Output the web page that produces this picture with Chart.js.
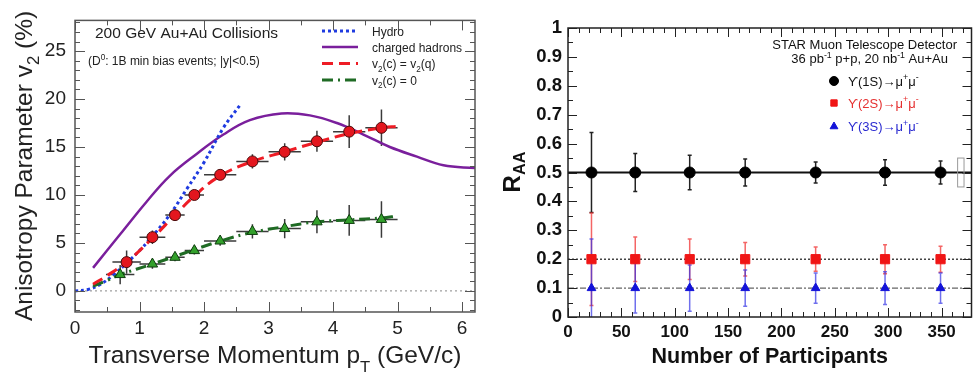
<!DOCTYPE html>
<html>
<head>
<meta charset="utf-8">
<script src="https://cdn.jsdelivr.net/npm/chart.js@4.4.1/dist/chart.umd.min.js"></script>
<style>
  html, body { margin: 0; padding: 0; background: #fff; }
  #wrap { position: relative; width: 979px; height: 372px; overflow: hidden; }
  #left { position: absolute; left: 0; top: 0; }
  #right { position: absolute; left: 490px; top: 0; }
</style>
</head>
<body>
<div id="wrap">
  <canvas id="left" width="490" height="372"></canvas>
  <canvas id="right" width="489" height="372"></canvas>
</div>
<script>
// ---- left panel: D0 v2 vs pT ----
const ptTicks = [0, 1, 2, 3, 4, 5, 6];
const v2Ticks = [0, 5, 10, 15, 20, 25];

const ptBins = [0.8, 1.2, 1.55, 1.85, 2.25, 2.75, 3.25, 3.75, 4.25, 4.75];
const ptHalfWidth = [0.22, 0.2, 0.15, 0.15, 0.25, 0.25, 0.25, 0.25, 0.25, 0.25];
const v2Quark = [3.0, 5.6, 7.9, 10.0, 12.1, 13.5, 14.5, 15.6, 16.6, 17.0];
const v2QuarkErr = [1.2, 0.7, 0.5, 0.4, 0.5, 0.75, 0.9, 1.1, 1.7, 1.9];

const ptBinsZero = [0.7, 1.2, 1.55, 1.85, 2.25, 2.75, 3.25, 3.75, 4.25, 4.75];
const v2Zero = [1.7, 2.8, 3.5, 4.2, 5.2, 6.2, 6.5, 7.2, 7.35, 7.45];
const v2ZeroErr = [1.0, 0.5, 0.4, 0.4, 0.5, 0.75, 1.0, 1.2, 1.6, 1.9];

const quarkCurvePt = [0.28, 0.5, 0.8, 1.2, 1.55, 1.85, 2.25, 2.75, 3.25, 3.75, 4.25, 4.75, 5.0];
const quarkCurveV2 = [0.7, 1.6, 3.0, 5.5, 7.9, 9.9, 12.0, 13.5, 14.5, 15.5, 16.4, 17.0, 17.15];
const zeroCurvePt = [0.28, 0.5, 0.7, 1.2, 1.55, 1.85, 2.25, 2.75, 3.25, 3.75, 4.25, 4.75, 5.0];
const zeroCurveV2 = [0.5, 1.1, 1.7, 2.8, 3.6, 4.3, 5.2, 6.1, 6.7, 7.2, 7.4, 7.6, 7.8];

const hydroPt = [0, 0.2, 0.4, 0.6, 0.8, 1.0, 1.2, 1.47, 1.73, 2.0, 2.3, 2.55];
const hydroV2 = [0, 0.15, 0.7, 1.7, 2.9, 4.2, 5.7, 7.95, 10.6, 13.4, 17.0, 19.3];

const hadronPt = [0.28, 0.7, 1.11, 1.47, 1.89, 2.3, 2.71, 3.2, 3.64, 4.06, 4.47, 4.88, 5.3, 5.71, 6.2];
const hadronV2 = [2.4, 5.9, 9.3, 12.0, 14.3, 16.3, 17.8, 18.5, 18.3, 17.5, 16.3, 15.0, 14.0, 13.1, 12.8];

const zeroLinePt = [0, 6.2];

// ---- right panel: Upsilon R_AA vs Npart ----
const npartTicks = [0, 50, 100, 150, 200, 250, 300, 350];
const raaTicks = [0, 0.1, 0.2, 0.3, 0.4, 0.5, 0.6, 0.7, 0.8, 0.9, 1];

const nPart = [22, 63, 114, 166, 232, 297, 349];
const raa1S = [0.5, 0.5, 0.5, 0.5, 0.5, 0.5, 0.5];
const raa1SErr = [0.138, 0.066, 0.06, 0.047, 0.036, 0.044, 0.04];
const raa2S = [0.2, 0.2, 0.2, 0.2, 0.2, 0.2, 0.2];
const raa2SErr = [0.16, 0.077, 0.07, 0.058, 0.042, 0.05, 0.045];
const raa3S = [0.1, 0.1, 0.1, 0.1, 0.1, 0.1, 0.1];
const raa3SErr = [0.17, 0.086, 0.08, 0.063, 0.052, 0.057, 0.052];

const refSpan = [0, 378];
const sysNpart = [365, 371];
const sysRaa = [0.45, 0.55];

const FONT = 'Liberation Sans, Arial, Helvetica, DejaVu Sans, sans-serif';
const xy = (xs, ys) => xs.map((x, i) => ({ x, y: ys[i] }));
const fixTicks = list => scale => { scale.ticks = list.map(v => ({ value: v })); };

// text with sub/superscripts: parts = [[text, ''|'sub'|'sup'], ...]
function richText(ctx, parts, x, y, o) {
  const fontFor = k => `${o.weight || 'normal'} ${k ? o.size * 0.68 : o.size}px ${FONT}`;
  let total = 0;
  const widths = parts.map(([t, k]) => {
    ctx.font = fontFor(k);
    const w = ctx.measureText(t).width;
    total += w;
    return w;
  });
  let cx = o.align === 'center' ? x - total / 2 : o.align === 'right' ? x - total : x;
  ctx.fillStyle = o.color || '#000';
  ctx.textAlign = 'left';
  ctx.textBaseline = 'alphabetic';
  parts.forEach(([t, k], i) => {
    ctx.font = fontFor(k);
    const dy = k === 'sub' ? o.size * (o.subShift || 0.3) : k === 'sup' ? -o.size * 0.42 : 0;
    ctx.fillText(t, cx, y + dy);
    cx += widths[i];
  });
}

function rotatedText(ctx, parts, x, y, o) {
  ctx.save();
  ctx.translate(x, y);
  ctx.rotate(-Math.PI / 2);
  richText(ctx, parts, 0, 0, Object.assign({ align: 'center' }, o));
  ctx.restore();
}

const errorBars = {
  id: 'errorBars',
  beforeDatasetsDraw(chart) {
    const { ctx, chartArea: a, scales: { x, y } } = chart;
    ctx.save();
    ctx.beginPath();
    ctx.rect(a.left, a.top, a.width, a.height);
    ctx.clip();
    chart.data.datasets.forEach(ds => {
      if (!ds.yErr) return;
      ctx.strokeStyle = ds.errColor;
      ctx.lineWidth = ds.errWidth || 1.5;
      ds.data.forEach((p, i) => {
        const px = x.getPixelForValue(p.x), py = y.getPixelForValue(p.y);
        const top = y.getPixelForValue(p.y + ds.yErr[i]);
        const bot = y.getPixelForValue(p.y - ds.yErr[i]);
        ctx.beginPath();
        ctx.moveTo(px, top); ctx.lineTo(px, bot);
        if (ds.xErr) {
          ctx.moveTo(x.getPixelForValue(p.x - ds.xErr[i]), py);
          ctx.lineTo(x.getPixelForValue(p.x + ds.xErr[i]), py);
        }
        if (ds.cap) {
          ctx.moveTo(px - ds.cap, top); ctx.lineTo(px + ds.cap, top);
          ctx.moveTo(px - ds.cap, bot); ctx.lineTo(px + ds.cap, bot);
        }
        ctx.stroke();
      });
    });
    ctx.restore();
  }
};

// ROOT-style frame with inward ticks on all four sides
const frameTicks = {
  id: 'frameTicks',
  afterDatasetsDraw(chart, args, o) {
    const { ctx, chartArea: a, scales: { x, y } } = chart;
    const isMajor = (v, step) => Math.abs(v / step - Math.round(v / step)) < 1e-6;
    ctx.save();
    ctx.strokeStyle = o.color;
    ctx.lineWidth = o.tickWidth;
    ctx.beginPath();
    for (let v = Math.ceil(x.min / o.xMinor - 1e-9) * o.xMinor; v <= x.max + 1e-9; v += o.xMinor) {
      const px = Math.round(x.getPixelForValue(v)) + 0.5;
      const len = isMajor(v, o.xMajor) ? o.majorLen : o.minorLen;
      ctx.moveTo(px, a.bottom); ctx.lineTo(px, a.bottom - len);
      ctx.moveTo(px, a.top); ctx.lineTo(px, a.top + len);
    }
    for (let v = Math.ceil(y.min / o.yMinor - 1e-9) * o.yMinor; v <= y.max + 1e-9; v += o.yMinor) {
      const py = Math.round(y.getPixelForValue(v)) + 0.5;
      const len = isMajor(v, o.yMajor) ? o.majorLen : o.minorLen;
      ctx.moveTo(a.left, py); ctx.lineTo(a.left + len, py);
      ctx.moveTo(a.right, py); ctx.lineTo(a.right - len, py);
    }
    ctx.stroke();
    ctx.lineWidth = o.width;
    ctx.strokeRect(a.left, a.top, a.width, a.height);
    ctx.restore();
  }
};

const leftText = {
  id: 'leftText',
  afterDraw(chart) {
    const { ctx, chartArea: a } = chart;
    const ds = chart.data.datasets;
    richText(ctx, [['200 GeV Au+Au Collisions', '']], 95, 38, { size: 15.5, color: '#222' });
    richText(ctx, [['(D', ''], ['0', 'sup'], [': 1B min bias events; |y|<0.5)', '']], 88, 65, { size: 12, color: '#222' });

    const rows = [
      [4, [['Hydro', '']], 31],
      [5, [['charged hadrons', '']], 47],
      [2, [['v', ''], ['2', 'sub'], ['(c) = v', ''], ['2', 'sub'], ['(q)', '']], 63.5],
      [3, [['v', ''], ['2', 'sub'], ['(c) = 0', '']], 80]
    ];
    rows.forEach(([i, parts, yy]) => {
      const d = ds[i];
      ctx.save();
      ctx.strokeStyle = d.borderColor;
      ctx.lineWidth = d.borderWidth;
      ctx.setLineDash(d.borderDash || []);
      ctx.beginPath();
      ctx.moveTo(322, yy); ctx.lineTo(358, yy);
      ctx.stroke();
      ctx.restore();
      richText(ctx, parts, 372, yy + 4.5, { size: 12, color: '#222' });
    });

    rotatedText(ctx, [['Anisotropy Parameter v', ''], ['2', 'sub'], [' (%)', '']], 32, 166, { size: 24.5, color: '#222' });
    richText(ctx, [['Transverse Momentum p', ''], ['T', 'sub'], [' (GeV/c)', '']], (a.left + a.right) / 2, 363, { size: 24.5, color: '#222', align: 'center', subShift: 0.4 });
  }
};

const rightText = {
  id: 'rightText',
  afterDraw(chart) {
    const { ctx, scales: { x, y }, chartArea: a } = chart;
    const ds = chart.data.datasets;
    richText(ctx, [['STAR Muon Telescope Detector', '']], 467, 49, { size: 13, color: '#111', align: 'right' });
    richText(ctx, [['36 pb', ''], ['-1', 'sup'], [' p+p, 20 nb', ''], ['-1', 'sup'], [' Au+Au', '']], 458, 63, { size: 13, color: '#111', align: 'right' });

    const rows = [
      [0, '#111', 81],
      [1, '#e53030', 103],
      [2, '#2a2ad0', 126.5]
    ];
    const names = ['ϒ(1S)→μ', 'ϒ(2S)→μ', 'ϒ(3S)→μ'];
    rows.forEach(([i, col, yy]) => {
      const d = ds[i];
      ctx.save();
      ctx.fillStyle = d.backgroundColor;
      ctx.strokeStyle = d.borderColor;
      ctx.lineWidth = 1;
      Chart.helpers.drawPoint(ctx, { pointStyle: d.pointStyle, radius: 4.5, rotation: 0, borderWidth: 1 }, 344, yy);
      ctx.restore();
      richText(ctx, [[names[i], ''], ['+', 'sup'], ['μ', ''], ['-', 'sup']], 358, yy + 4.5, { size: 13, color: col });
    });

    // systematic box of 1S
    ctx.save();
    ctx.strokeStyle = '#999';
    ctx.lineWidth = 1;
    const bx = x.getPixelForValue(sysNpart[0]), bw = x.getPixelForValue(sysNpart[1]) - bx;
    const by = y.getPixelForValue(sysRaa[1]), bh = y.getPixelForValue(sysRaa[0]) - by;
    ctx.strokeRect(bx, by, bw, bh);
    ctx.restore();

    rotatedText(ctx, [['R', ''], ['AA', 'sub']], 30, 172, { size: 24, weight: 'bold', color: '#111', subShift: 0.2 });
    richText(ctx, [['Number of Participants', '']], (a.left + a.right) / 2, 363, { size: 21.5, weight: 'bold', color: '#111', align: 'center' });
  }
};

new Chart(document.getElementById('left'), {
  type: 'scatter',
  data: {
    datasets: [
      { label: 'D0 v2(c) = v2(q)', data: xy(ptBins, v2Quark), pointStyle: 'circle', pointRadius: 5.5,
        backgroundColor: '#e3161e', borderColor: '#4a0a0a', borderWidth: 1,
        xErr: ptHalfWidth, yErr: v2QuarkErr, errColor: '#3a3a3a', order: 0 },
      { label: 'D0 v2(c) = 0', data: xy(ptBinsZero, v2Zero), pointStyle: 'triangle', pointRadius: 6,
        backgroundColor: '#33a02c', borderColor: '#0d3b0d', borderWidth: 1,
        xErr: ptHalfWidth, yErr: v2ZeroErr, errColor: '#3a3a3a', order: 0 },
      { label: 'v2(c) = v2(q)', data: xy(quarkCurvePt, quarkCurveV2), showLine: true, pointRadius: 0,
        borderColor: '#ee1c25', borderWidth: 3, borderDash: [11, 6], tension: 0.4, order: 1 },
      { label: 'v2(c) = 0', data: xy(zeroCurvePt, zeroCurveV2), showLine: true, pointRadius: 0,
        borderColor: '#1f6b24', borderWidth: 3, borderDash: [11, 5, 2, 5], tension: 0.4, order: 1 },
      { label: 'Hydro', data: xy(hydroPt, hydroV2), showLine: true, pointRadius: 0,
        borderColor: '#1f3be0', borderWidth: 3, borderDash: [3, 3], tension: 0.4, order: 2 },
      { label: 'charged hadrons', data: xy(hadronPt, hadronV2), showLine: true, pointRadius: 0,
        borderColor: '#7a1f9c', borderWidth: 2.5, tension: 0.4, order: 3 },
      { label: 'zero', data: xy(zeroLinePt, [0, 0]), showLine: true, pointRadius: 0,
        borderColor: '#888', borderWidth: 1, borderDash: [2, 3], order: 4 }
    ]
  },
  options: {
    responsive: false,
    animation: false,
    layout: { padding: { top: 8, right: 15, left: 0, bottom: 0 } },
    plugins: {
      legend: { display: false },
      tooltip: { enabled: false },
      frameTicks: { color: '#555', width: 1.5, tickWidth: 1, xMajor: 1, xMinor: 0.5, yMajor: 5, yMinor: 1, majorLen: 10, minorLen: 5 }
    },
    scales: {
      x: {
        type: 'linear', min: 0, max: 6.2,
        afterBuildTicks: fixTicks(ptTicks),
        afterFit: s => { s.height = 60; },
        grid: { display: false, drawTicks: false }, border: { display: false },
        ticks: { font: { family: FONT, size: 19 }, color: '#222', padding: 5, maxRotation: 0, autoSkip: false, callback: v => String(v) }
      },
      y: {
        min: -2.2, max: 28.2,
        afterBuildTicks: fixTicks(v2Ticks),
        afterFit: s => { s.width = 75; },
        grid: { display: false, drawTicks: false }, border: { display: false },
        ticks: { font: { family: FONT, size: 19 }, color: '#222', padding: 9, autoSkip: false, callback: v => String(v) }
      }
    }
  },
  plugins: [errorBars, frameTicks, leftText]
});

new Chart(document.getElementById('right'), {
  type: 'scatter',
  data: {
    datasets: [
      { label: 'Y(1S)', data: xy(nPart, raa1S), pointStyle: 'circle', pointRadius: 5.5,
        backgroundColor: '#000', borderColor: '#000', borderWidth: 1,
        yErr: raa1SErr, errColor: '#222', cap: 2, order: 0 },
      { label: 'Y(2S)', data: xy(nPart, raa2S), pointStyle: 'rect', pointRadius: 6.5,
        backgroundColor: '#f01515', borderColor: '#f01515', borderWidth: 1,
        yErr: raa2SErr, errColor: 'rgba(240,50,50,0.75)', cap: 2, order: 0 },
      { label: 'Y(3S)', data: xy(nPart, raa3S), pointStyle: 'triangle', pointRadius: 5,
        backgroundColor: '#1212d8', borderColor: '#1212d8', borderWidth: 1,
        yErr: raa3SErr, errColor: 'rgba(50,50,230,0.7)', cap: 2, order: 0 },
      { label: '0.5', data: xy(refSpan, [0.5, 0.5]), showLine: true, pointRadius: 0,
        borderColor: '#111', borderWidth: 2, order: 3 },
      { label: '0.2', data: xy(refSpan, [0.2, 0.2]), showLine: true, pointRadius: 0,
        borderColor: '#444', borderWidth: 1.5, borderDash: [2, 2], order: 3 },
      { label: '0.1', data: xy(refSpan, [0.1, 0.1]), showLine: true, pointRadius: 0,
        borderColor: '#666', borderWidth: 1.2, borderDash: [6, 2, 2, 2], order: 3 }
    ]
  },
  options: {
    responsive: false,
    animation: false,
    layout: { padding: { top: 28, right: 2, left: 0, bottom: 0 } },
    plugins: {
      legend: { display: false },
      tooltip: { enabled: false },
      frameTicks: { color: '#222', width: 1.5, tickWidth: 1, xMajor: 50, xMinor: 10, yMajor: 0.1, yMinor: 0.05, majorLen: 9, minorLen: 5 }
    },
    scales: {
      x: {
        type: 'linear', min: 0, max: 378,
        afterBuildTicks: fixTicks(npartTicks),
        afterFit: s => { s.height = 55; },
        grid: { display: false, drawTicks: false }, border: { display: false },
        ticks: { font: { family: FONT, size: 17, weight: 'bold' }, color: '#111', padding: 5, maxRotation: 0, autoSkip: false, callback: v => String(v) }
      },
      y: {
        min: 0, max: 1,
        afterBuildTicks: fixTicks(raaTicks),
        afterFit: s => { s.width = 78; },
        grid: { display: false, drawTicks: false }, border: { display: false },
        ticks: { font: { family: FONT, size: 18.5, weight: 'bold' }, color: '#111', padding: 6, autoSkip: false, callback: v => String(v) }
      }
    }
  },
  plugins: [errorBars, frameTicks, rightText]
});
</script>
</body>
</html>
